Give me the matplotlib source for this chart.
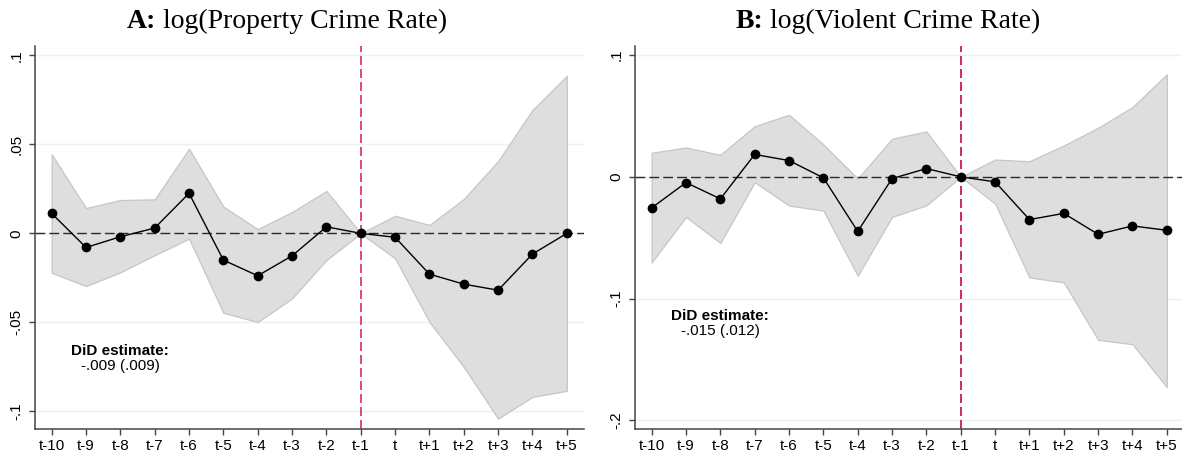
import numpy as np
import matplotlib.pyplot as plt

# event-study estimates
periods = ['t-10', 't-9', 't-8', 't-7', 't-6', 't-5', 't-4', 't-3', 't-2', 't-1',
           't', 't+1', 't+2', 't+3', 't+4', 't+5']

prop_coef = [0.0112, -0.0079, -0.0019, 0.0030, 0.0225, -0.0150, -0.0238, -0.0126, 0.0037, 0.0,
             -0.0022, -0.0229, -0.0285, -0.0319, -0.0116, 0.0]
prop_hi = [0.0444, 0.0142, 0.0187, 0.0191, 0.0475, 0.0150, 0.0024, 0.0120, 0.0238, 0.0,
           0.0099, 0.0047, 0.0193, 0.0406, 0.0693, 0.0884]
prop_lo = [-0.0221, -0.0296, -0.0219, -0.0122, -0.0030, -0.0446, -0.0498, -0.0365, -0.0150, 0.0,
           -0.0140, -0.0497, -0.0750, -0.1040, -0.0918, -0.0884]

viol_coef = [-0.0255, -0.0047, -0.0181, 0.0184, 0.0134, -0.0008, -0.0448, -0.0014, 0.0068, 0.0,
             -0.0041, -0.0351, -0.0300, -0.0472, -0.0403, -0.0439]
viol_hi = [0.0198, 0.0241, 0.0181, 0.0416, 0.0510, 0.0266, -0.0014, 0.0313, 0.0373, 0.0,
           0.0142, 0.0128, 0.0258, 0.0403, 0.0573, 0.0842]
viol_lo = [-0.0703, -0.0329, -0.0543, -0.0044, -0.0236, -0.0277, -0.0812, -0.0329, -0.0234, 0.0,
           -0.0220, -0.0826, -0.0867, -0.1339, -0.1375, -0.1728]

prop_ticks = [-0.1, -0.05, 0, 0.05, 0.1]
prop_ticklabels = ['-.1', '-.05', '0', '.05', '.1']
viol_ticks = [-0.2, -0.1, 0, 0.1]
viol_ticklabels = ['-.2', '-.1', '0', '.1']

did_prop = '-.009 (.009)'
did_viol = '-.015 (.012)'

W, H = 1182, 455
fig = plt.figure(figsize=(W / 100, H / 100), dpi=100)
sans = 'Liberation Sans'
serif = 'Liberation Serif'

x = np.arange(len(periods))


def panel(rect, coef, lo, hi, ticks, ticklabels, ylim, did, did_y, red):
    ax = fig.add_axes(rect)
    ax.fill_between(x, lo, hi, color='#dedede', edgecolor='#c6c6c6', linewidth=0.9, zorder=1)
    ax.axhline(0, color='#2a2a2a', lw=1.0, dashes=(7, 3), zorder=2)
    ax.axvline(9, color=red, lw=1.3, dashes=(5, 2.2), zorder=2)
    ax.plot(x, coef, color='black', lw=1.0, marker='o', ms=6, zorder=3)
    ax.set_xlim(-0.5, 15.5)
    ax.set_ylim(*ylim)
    ax.set_xticks(x)
    ax.set_xticklabels(periods, fontfamily=sans, fontsize=11)
    ax.set_yticks(ticks)
    ax.set_yticklabels(ticklabels, fontfamily=sans, fontsize=11, rotation=90, va='center')
    ax.grid(axis='y', color='#eaf2f3', lw=1.0, zorder=0)
    ax.set_axisbelow(True)
    for s in ['top', 'right']:
        ax.spines[s].set_visible(False)
    for s in ['left', 'bottom']:
        ax.spines[s].set_color('#444444')
        ax.spines[s].set_linewidth(1.1)
    ax.tick_params(direction='out', length=4, width=1, color='#444444', pad=3)
    ax.tick_params(axis='y', pad=4)
    ax.text(2, did_y[0], 'DiD estimate:', ha='center', va='center',
            fontfamily=sans, fontweight='bold', fontsize=11)
    ax.text(2, did_y[1], did, ha='center', va='center', fontfamily=sans, fontsize=11)
    return ax


axA = panel([34.5 / W, 25.7 / H, 549.5 / W, 383.3 / H], prop_coef, prop_lo, prop_hi,
            prop_ticks, prop_ticklabels, (-0.110, 0.1052), did_prop, (-0.066, -0.0745), '#d6406c')
axB = panel([634.5 / W, 25.7 / H, 549.5 / W, 383.3 / H], viol_coef, viol_lo, viol_hi,
            viol_ticks, viol_ticklabels, (-0.2074, 0.1075), did_viol, (-0.1147, -0.1265), '#c91f4a')


def title(x0, bold, rest):
    # bold panel letter, then the rest in regular weight right after it
    t1 = fig.text(x0 / W, 1 - 28 / H, bold, fontfamily=serif, fontweight='bold',
                  fontsize=20, ha='left', va='baseline')
    fig.canvas.draw()
    bb = t1.get_window_extent()
    fig.text((bb.x1 + 6.5) / W, 1 - 28 / H, rest, fontfamily=serif, fontsize=20,
             ha='left', va='baseline')


title(126.7, 'A:', 'log(Property Crime Rate)')
title(735.7, 'B:', 'log(Violent Crime Rate)')

fig.savefig('out.png', dpi=100)
